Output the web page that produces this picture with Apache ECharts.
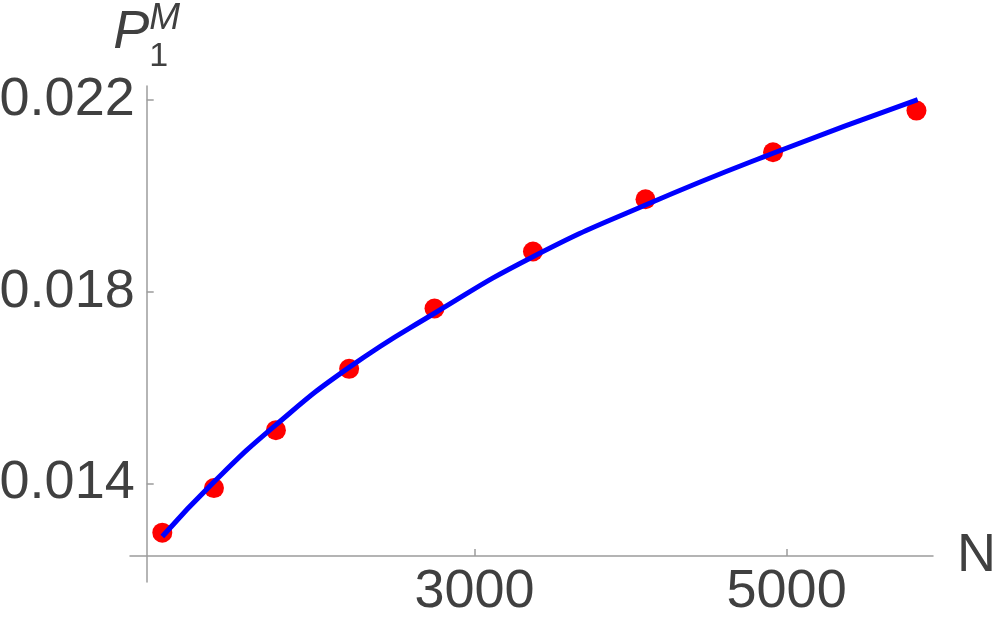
<!DOCTYPE html>
<html>
<head>
<meta charset="utf-8">
<script src="https://cdn.jsdelivr.net/npm/echarts@6/dist/echarts.min.js"></script>
<style>
  html, body { margin: 0; padding: 0; background: #fff; }
  #chart { width: 996px; height: 629px; }
</style>
</head>
<body>
<div id="chart"></div>
<script>
// measured points (N, P1^M)
const dotN = [1000, 1331, 1728, 2197, 2744, 3375, 4096, 4913, 5832]
const dotP = [0.01297, 0.0139, 0.01511, 0.01639, 0.01765, 0.01884, 0.01993, 0.02091, 0.02178]

// fit curve
const fitN = [1000, 1331, 1728, 2197, 2744, 3375, 4096, 4913, 5840]
const fitP = [0.01289, 0.01403, 0.01522, 0.01642, 0.01755, 0.01873, 0.01981, 0.02089, 0.02201]

const xTicks = [3000, 5000]
const yTicks = [0.014, 0.018, 0.022]

const axisGray = '#9c9c9c'
const textGray = '#404040'
const font = 'Liberation Sans'

const chart = echarts.init(document.getElementById('chart'))

chart.setOption({
  animation: false,
  backgroundColor: '#fff',
  textStyle: { fontFamily: font },
  grid: { left: 130, right: 63, top: 86, bottom: 47, outerBoundsMode: 'none' },
  xAxis: {
    type: 'value',
    min: 793,
    max: 5938,
    offset: -26,
    splitLine: { show: false },
    axisLine: { lineStyle: { color: axisGray, width: 1.5 } },
    axisTick: { inside: true, length: 7, customValues: xTicks, lineStyle: { color: axisGray, width: 1.5 } },
    axisLabel: {
      customValues: xTicks,
      margin: 9,
      fontSize: 54,
      color: textGray,
      fontFamily: font,
      formatter: (v) => String(v),
    },
    name: 'N',
    nameLocation: 'end',
    nameGap: 24,
    nameTextStyle: { fontSize: 54, color: textGray, fontFamily: font },
  },
  yAxis: {
    type: 'value',
    min: 0.01194,
    max: 0.022294,
    offset: -16.7,
    splitLine: { show: false },
    axisLine: { lineStyle: { color: axisGray, width: 1.5 } },
    axisTick: { inside: true, length: 7, customValues: yTicks, lineStyle: { color: axisGray, width: 1.5 } },
    axisLabel: {
      customValues: yTicks,
      margin: 12,
      fontSize: 54,
      color: textGray,
      fontFamily: font,
      formatter: (v) => v.toFixed(3),
    },
    // P with subscript 1 and superscript M, stacked in two rich-text lines
    name: '{p|P}{m|M}\n{gap|}{s|1}',
    nameLocation: 'end',
    nameGap: 28,
    nameTextStyle: {
      color: textGray,
      fontFamily: font,
      align: 'center',
      rich: {
        p: { fontSize: 54, fontStyle: 'italic', lineHeight: 44, align: 'left', color: textGray, fontFamily: font },
        m: { fontSize: 37, fontStyle: 'italic', lineHeight: 1, padding: [0, 0, 28, 0], align: 'left', color: textGray, fontFamily: font },
        gap: { width: 36, lineHeight: 2, align: 'left' },
        s: { fontSize: 34, lineHeight: 2, align: 'left', color: textGray, fontFamily: font },
      },
    },
  },
  series: [
    {
      name: 'data',
      type: 'scatter',
      symbolSize: 20,
      itemStyle: { color: '#ff0000', opacity: 1 },
      data: dotN.map((n, i) => [n, dotP[i]]),
    },
    {
      name: 'fit',
      type: 'line',
      smooth: true,
      showSymbol: false,
      lineStyle: { color: '#0000ff', width: 5 },
      data: fitN.map((n, i) => [n, fitP[i]]),
    },
  ],
})
</script>
</body>
</html>
